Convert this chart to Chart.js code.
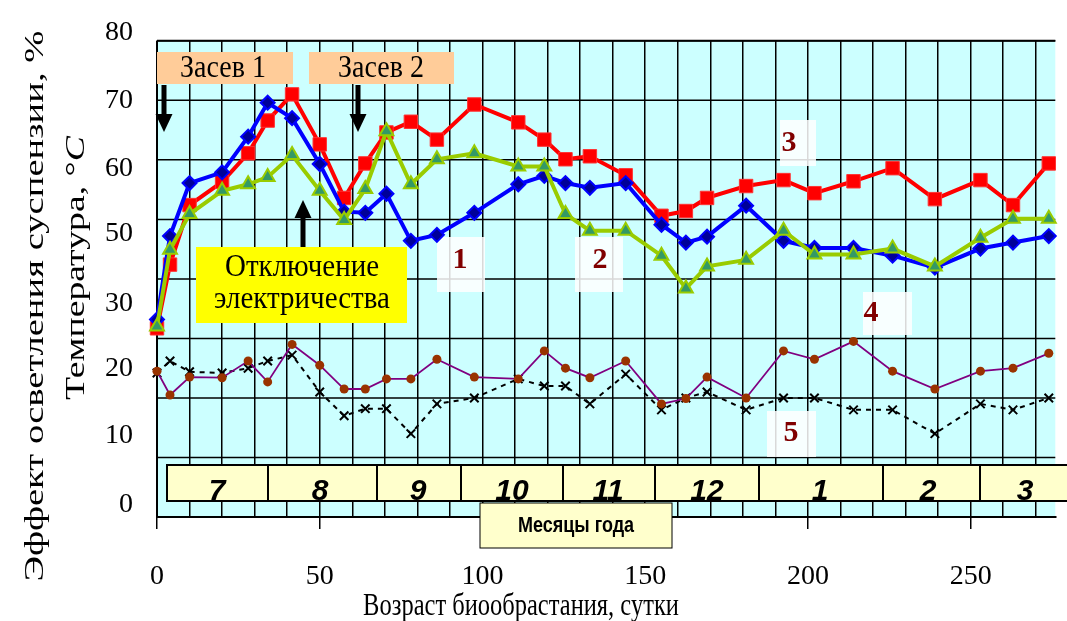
<!DOCTYPE html>
<html>
<head>
<meta charset="utf-8">
<script src="https://cdn.jsdelivr.net/npm/chart.js@4.4.0/dist/chart.umd.min.js"></script>
<style>
  html, body { margin: 0; padding: 0; background: #fff; }
</style>
</head>
<body>
<canvas id="grafico" width="1067" height="621"></canvas>
<script>
// Возраст биообрастания, сутки
const days = [0, 4, 10, 20, 28, 34, 41.5, 50, 57.5, 64, 70.5, 78, 86, 97.5, 111, 119, 125.5, 133, 144, 155, 162.5, 169, 181, 192.5, 202, 214, 226, 239, 253, 263, 274];

// эффект осветления, %
const seria1 = [33.2, 47.2, 56.1, 57.9, 63.9, 69.6, 67, 59.3, 51.3, 51.1, 54.3, 46.4, 47.4, 51.1, 55.9, 57.3, 56.1, 55.3, 56.1, 49.1, 46.1, 47.1, 52.3, 46.4, 45.2, 45.2, 43.9, 41.9, 45.1, 46.1, 47.2];
const seria2 = [32, 44.9, 50.9, 54.8, 55.9, 57.1, 60.8, 54.8, 49.9, 55.1, 64.8, 55.9, 60.1, 61.1, 58.9, 58.9, 50.9, 48.1, 48.1, 43.9, 38.4, 42.1, 43.2, 48.1, 44.1, 44.1, 45.1, 42.1, 46.9, 50.1, 50.1];
const seria3 = [31.7, 42.4, 52.4, 56.3, 61.1, 66.6, 71, 62.6, 53.6, 59.4, 64.6, 66.4, 63.4, 69.3, 66.3, 63.4, 60.1, 60.6, 57.4, 50.6, 51.4, 53.6, 55.6, 56.6, 54.4, 56.4, 58.6, 53.4, 56.6, 52.4, 59.4];
// температура
const seria4 = [24.5, 20.5, 23.5, 23.4, 26.2, 22.7, 29, 25.5, 21.5, 21.5, 23.2, 23.2, 26.5, 23.5, 23.2, 27.9, 25, 23.4, 26.2, 19, 19.9, 23.5, 20, 27.9, 26.5, 29.5, 24.5, 21.5, 24.5, 25, 27.5];
const seria5 = [24.2, 26.2, 24.4, 24.2, 25, 26.2, 27.2, 21, 17, 18.2, 18.2, 14, 19, 20, 23.2, 22, 22, 19, 24, 18, 20, 21, 18, 20, 20, 18, 18, 14, 19, 18, 20];

const xTickLabels = [0, 50, 100, 150, 200, 250];
const yTickPos = [81.3, 70, 58.6, 47.6, 35.9, 24.9, 13.7, 2.0];
const yTickText = ['80', '70', '60', '50', '30', '20', '10', '0'];
const yGrid = [10, 20, 30, 40, 50, 60, 70, 80];
const months = ['7', '8', '9', '10', '11', '12', '1', '2', '3'];

function pts(arr) {
  return days.map((d, i) => ({ x: d, y: arr[i] }));
}

function line(ctx, x1, y1, x2, y2) {
  ctx.beginPath(); ctx.moveTo(x1, y1); ctx.lineTo(x2, y2); ctx.stroke();
}

function box(ctx, x, y, w, h, fill, stroke, lw) {
  ctx.fillStyle = fill;
  ctx.fillRect(x, y, w, h);
  if (stroke) {
    ctx.strokeStyle = stroke; ctx.lineWidth = lw || 1;
    ctx.strokeRect(x, y, w, h);
  }
}

function text(ctx, t, x, y, font, color) {
  ctx.font = font;
  ctx.fillStyle = color || '#000';
  ctx.textAlign = 'center';
  ctx.textBaseline = 'middle';
  ctx.fillText(t, x, y);
}

// текст, вытянутый по вертикали (как в исходной картинке)
function tallText(ctx, t, x, y, font, k) {
  ctx.save();
  ctx.translate(x, y);
  ctx.scale(1, k);
  text(ctx, t, 0, 0, font);
  ctx.restore();
}

function arrow(ctx, x, yFrom, yTo) {
  const dir = Math.sign(yTo - yFrom);
  const hb = yTo - dir * 18;
  ctx.fillStyle = '#000';
  ctx.fillRect(x - 2.5, Math.min(yFrom, hb), 5, Math.abs(hb - yFrom));
  ctx.beginPath();
  ctx.moveTo(x - 8.5, hb); ctx.lineTo(x + 8.5, hb); ctx.lineTo(x, yTo);
  ctx.closePath(); ctx.fill();
}

const fon = {
  id: 'fon',
  beforeDraw(chart) {
    const { ctx, chartArea: a } = chart;
    ctx.save();
    ctx.fillStyle = '#CCFFFF';
    ctx.fillRect(a.left, a.top, a.right - a.left, a.bottom - a.top);
    ctx.restore();
  },
  beforeDatasetsDraw(chart) {
    const { ctx, chartArea: a, scales: { y } } = chart;
    ctx.save();
    ctx.strokeStyle = '#000';
    ctx.lineWidth = 1.5;
    yGrid.forEach(v => {
      const py = y.getPixelForValue(v);
      line(ctx, a.left, py, a.right, py);
    });
    ctx.lineWidth = 2;
    line(ctx, a.left, a.top, a.left, a.bottom);
    line(ctx, a.left, a.top, a.right, a.top);

    // подписи кривых
    const white = 'rgba(255,255,255,0.85)';
    box(ctx, 437, 237, 48, 55, white);
    box(ctx, 575, 237, 48, 55, white);
    box(ctx, 780, 120, 36, 46, white);
    box(ctx, 863, 292, 49, 43, white);
    box(ctx, 767, 411, 49, 46, white);
    const f = 'bold 30px "Liberation Serif"';
    text(ctx, '1', 460, 260, f, '#800000');
    text(ctx, '2', 600, 260, f, '#800000');
    text(ctx, '3', 789, 143, f, '#800000');
    text(ctx, '4', 871, 313, f, '#800000');
    text(ctx, '5', 791, 433, f, '#800000');
    ctx.restore();
  },
  afterDatasetsDraw(chart) {
    const { ctx } = chart;
    ctx.save();

    // месяцы
    const edges = [167, 268, 377, 461, 563, 655, 759, 883, 980, 1090];
    const mx = [217, 320, 418, 512, 608, 707, 820, 928, 1025];
    box(ctx, 167, 465, 1090 - 167, 36, '#FFFFCC', '#000', 2);
    ctx.strokeStyle = '#000'; ctx.lineWidth = 2;
    edges.forEach(e => line(ctx, e, 465, e, 501));
    months.forEach((m, i) => {
      ctx.font = 'italic bold 30px "Liberation Sans"';
      ctx.fillStyle = '#000';
      ctx.textAlign = 'center';
      ctx.textBaseline = 'alphabetic';
      ctx.fillText(m, mx[i], 500);
    });

    box(ctx, 480, 503, 192, 45, '#FFFFCC', '#000', 1);
    tallText(ctx, 'Месяцы года', 576, 526, 'bold 18px "Liberation Sans Narrow", "Liberation Sans"', 1.2);

    // засев
    box(ctx, 157, 52, 136, 32, '#FFCC99');
    box(ctx, 309, 52, 145, 32, '#FFCC99');
    tallText(ctx, 'Засев 1', 223, 69, '28px "Liberation Serif"', 1.15);
    tallText(ctx, 'Засев 2', 381, 69, '28px "Liberation Serif"', 1.15);
    arrow(ctx, 164, 85, 132);
    arrow(ctx, 358, 85, 132);

    // отключение
    box(ctx, 196, 247, 211, 76, '#FFFF00');
    tallText(ctx, 'Отключение', 302, 268, '29px "Liberation Serif"', 1.1);
    tallText(ctx, 'электричества', 302, 300, '29px "Liberation Serif"', 1.1);
    arrow(ctx, 303, 247, 200);

    ctx.restore();
  },
  afterDraw(chart) {
    const { ctx } = chart;
    ctx.save();
    // подпись оси X
    tallText(ctx, 'Возраст биообрастания, сутки', 521, 607, '24.5px "Liberation Serif"', 1.3);

    // подписи оси Y
    ctx.translate(36, 306);
    ctx.rotate(-Math.PI / 2);
    ctx.scale(1.38, 1);
    text(ctx, 'Эффект осветления суспензии, %', 0, 0, '28px "Liberation Serif"');
    ctx.restore();

    ctx.save();
    ctx.translate(77, 268);
    ctx.rotate(-Math.PI / 2);
    ctx.scale(1.35, 1);
    ctx.fillStyle = '#000';
    ctx.textBaseline = 'middle';
    ctx.textAlign = 'left';
    const p1 = 'Температура, °';
    ctx.font = '28px "Liberation Serif"';
    const w1 = ctx.measureText(p1).width;
    ctx.font = 'italic 28px "Liberation Serif"';
    const w2 = ctx.measureText('C').width;
    const x0 = -(w1 + w2) / 2;
    ctx.font = '28px "Liberation Serif"';
    ctx.fillText(p1, x0, 0);
    ctx.font = 'italic 28px "Liberation Serif"';
    ctx.fillText('C', x0 + w1, 0);
    ctx.restore();
  }
};

const serif = 'Liberation Serif';

new Chart(document.getElementById('grafico'), {
  type: 'line',
  data: {
    datasets: [
      {
        data: pts(seria2), borderColor: '#99CC00', borderWidth: 4,
        pointStyle: 'triangle', pointRadius: 8, pointBackgroundColor: '#339966',
        pointBorderColor: '#99CC00', pointBorderWidth: 2, clip: 12
      },
      {
        data: pts(seria1), borderColor: '#0000FF', borderWidth: 4,
        pointStyle: 'rectRot', pointRadius: 7, pointBackgroundColor: '#000099',
        pointBorderColor: '#0000FF', pointBorderWidth: 2, clip: 12
      },
      {
        data: pts(seria3), borderColor: '#FF0000', borderWidth: 4,
        pointStyle: 'rect', pointRadius: 9.5, pointBackgroundColor: '#FF0000',
        pointBorderColor: '#FF3333', pointBorderWidth: 1, clip: 12
      },
      {
        data: pts(seria4), borderColor: '#800080', borderWidth: 1.8,
        pointStyle: 'circle', pointRadius: 4.5, pointBackgroundColor: '#993300',
        pointBorderColor: '#993300', pointBorderWidth: 0, clip: 12
      },
      {
        data: pts(seria5), borderColor: '#000', borderWidth: 2, borderDash: [5, 5],
        pointStyle: 'crossRot', pointRadius: 6, pointBorderColor: '#000',
        pointBorderWidth: 2, clip: 12
      }
    ]
  },
  options: {
    responsive: false,
    animation: false,
    events: [],
    layout: { padding: { top: 37, right: 0, left: 0, bottom: 0 } },
    plugins: {
      legend: { display: false },
      tooltip: { enabled: false }
    },
    elements: { line: { tension: 0 } },
    scales: {
      x: {
        type: 'linear',
        min: 0,
        max: 276,
        ticks: {
          stepSize: 10,
          includeBounds: false,
          autoSkip: false,
          maxRotation: 0,
          padding: 31,
          color: '#000',
          font: { family: serif, size: 28 },
          callback: v => xTickLabels.includes(v) ? String(v) : ''
        },
        grid: {
          color: '#000',
          lineWidth: 1.5,
          tickLength: 12,
          tickWidth: 1.5,
          tickColor: c => (c.tick && xTickLabels.includes(c.tick.value)) ? '#000' : 'rgba(0,0,0,0)'
        },
        border: { color: '#000', width: 2 },
        title: { display: false },
        afterFit: s => { s.height = 104; }
      },
      y: {
        min: 0,
        max: 80,
        afterBuildTicks: s => { s.ticks = yTickPos.map(v => ({ value: v })); },
        ticks: {
          autoSkip: false,
          padding: 24,
          color: '#000',
          font: { family: serif, size: 28 },
          callback: (v, i) => yTickText[i]
        },
        grid: { display: false, drawTicks: false },
        border: { display: false },
        title: { display: false },
        afterFit: s => { s.width = 157; }
      }
    }
  },
  plugins: [fon]
});
</script>
</body>
</html>
